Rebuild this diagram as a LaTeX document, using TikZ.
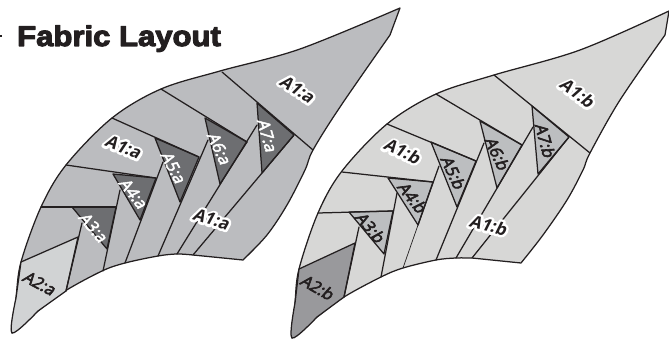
\documentclass[tikz,border=0pt]{standalone}
\usepackage{fontspec}
\setmainfont{Open Sans}
\newfontfamily\labfont[FakeSlant=.2]{Open Sans}
\newfontfamily\titlefont[FakeStretch=1.09]{Liberation Sans Bold}
\definecolor{ink}{HTML}{231F20}
\definecolor{alight}{HTML}{BBBCBF}
\definecolor{adark}{HTML}{6D6E71}
\definecolor{atwo}{HTML}{D1D3D4}
\definecolor{blight}{HTML}{D7D7D6}
\definecolor{bmid}{HTML}{BCBEC0}
\definecolor{btwo}{HTML}{99999C}
\tikzset{
  seam/.style={draw=ink,line width=1.25pt,line cap=round,line join=round},
  thinseam/.style={draw=ink,line width=.7pt,line cap=round},
  lab/.style={font=\labfont\fontsize{16.5}{16.5}\selectfont,inner sep=0pt,text=ink},
  labw/.style={lab,text=white},
  labh/.style={font=\labfont\bfseries\fontsize{17}{17}\selectfont,inner sep=0pt,text=ink},
  smoothcurve/.style={smooth,tension=.55},
}
\newcommand{\dk}[1]{\special{pdf: code 2 Tr 0.137 0.122 0.125 RG 0.6 w 1 j}#1\special{pdf: code 0 Tr 0 G 1 w}}
\newcommand{\wh}[1]{\special{pdf: code 2 Tr 1 1 1 RG 0.5 w 1 j}#1\special{pdf: code 0 Tr 0 G 1 w}}
\newcommand{\hl}[1]{\leavevmode\rlap{\special{pdf: code 1 Tr 1 1 1 RG 5 w 1 j 1 J}#1\special{pdf: code 0 Tr 0 G 1 w}}#1}
\newcommand{\heavy}[1]{\special{pdf: code 2 Tr 0.137 0.122 0.125 RG 1.1 w 1 j}#1\special{pdf: code 0 Tr 0 G 1 w}}
\begin{document}
\begin{tikzpicture}[x=1pt,y=-1pt]
\useasboundingbox (0,0) rectangle (669,339);
% ---------- left leaf
\path[seam,fill=alight] plot[smoothcurve] coordinates {(12,333) (16,298) (21,262) (41,207) (66,165) (112,118) (161,89) (220,71) (300,49) (400,8)}
  -- plot[smoothcurve] coordinates {(390,35) (340,107) (313,150) (305,170) (287,205) (267,235) (243,260)}
  -- plot[smoothcurve] coordinates {(193,255) (177,254) (158,256) (125,263) (102,271) (65,291) (38,311) (12,333)} -- cycle;
\path[seam,fill=atwo] (21,262) -- (78,237) -- (66,291) -- plot[smoothcurve] coordinates {(38,311) (12,333) (16,298)} -- cycle;
\path[seam,fill=adark] (257,103) -- (294,135) -- (262,173) -- cycle;
\path[seam,fill=adark] (205,118) -- (247,142) -- (220,184) -- cycle;
\path[seam,fill=adark] (155,138) -- (199,157) -- (180,202) -- cycle;
\path[seam,fill=adark] (113,174) -- (156,178) -- (140,220) -- cycle;
\path[seam,fill=adark] (72,207) -- (116,207) -- (107,249) -- cycle;
\draw[seam] (222,72) -- (313,150);
\draw[seam] (294,135) -- (193,255);
\draw[seam] (257,125) -- (177,254);
\draw[seam] (161,89) -- (247,142);
\draw[seam] (112,118) -- (199,157);
\draw[seam] (208,140) -- (158,256);
\draw[seam] (163,162) -- (125,263);
\draw[seam] (66,165) -- (156,178);
\draw[seam] (120,190) -- (103,271);
\draw[seam] (41,207) -- (116,207);
\draw[seam] (82,223) -- (66,291);
% ---------- right leaf
\path[seam,fill=blight] plot[smoothcurve] coordinates {(292,338) (295,303) (299,269) (318,213) (342,171) (387,124) (436,94) (494,75) (580,50) (669,11)}
  -- plot[smoothcurve] coordinates {(665,35) (620,100) (590,153) (583,170) (567,200) (543,235) (521,263)}
  -- plot[smoothcurve] coordinates {(472,258) (456,258) (436,260) (403,268) (381,277) (344,297) (317,317) (292,338)} -- cycle;
\path[seam,fill=btwo] (299,269) -- (355,243) -- (344,297) -- plot[smoothcurve] coordinates {(317,317) (292,338) (295,303)} -- cycle;
\path[seam,fill=bmid] (532,106) -- (569,137) -- (538,174) -- cycle;
\path[seam,fill=bmid] (480,121) -- (522,145) -- (497,188) -- cycle;
\path[seam,fill=bmid] (431,142) -- (476,161) -- (457,207) -- cycle;
\path[seam,fill=bmid] (388,178) -- (433,182) -- (418,225) -- cycle;
\path[seam,fill=bmid] (349,212) -- (393,211) -- (384,254) -- cycle;
\draw[seam] (494,75) -- (590,153);
\draw[seam] (569,137) -- (472,258);
\draw[seam] (533,127) -- (456,258);
\draw[seam] (436,94) -- (522,145);
\draw[seam] (387,124) -- (476,161);
\draw[seam] (484,143) -- (436,260);
\draw[seam] (439,166) -- (418,225);
\draw[thinseam] (418,225) -- (403,268);
\draw[seam] (342,172) -- (433,182);
\draw[seam] (397,193) -- (381,277);
\draw[seam] (318,213) -- (393,211);
\draw[seam] (359,227) -- (344,297);
% ---------- title
\node[anchor=base west,inner sep=0pt,font=\titlefont\fontsize{28.5}{28.5}\selectfont,text=ink] (title) at (17,46) {\heavy{Fabric Layout}};
\fill[ink] (0,35.5) rectangle (2,36.8);
% ---------- labels left
\node[labh,rotate=-33] (a1t) at (297,89) {\hl{A1:a}};
\node[labh,rotate=-22] (a1l) at (123,147) {\hl{A1:a}};
\node[labh,rotate=-17] (a1m) at (211,219) {\hl{A1:a}};
\node[labw,rotate=-74] (a7) at (267,135) {\wh{A7:a}};
\node[labw,rotate=-65] (a6) at (219,148) {\wh{A6:a}};
\node[labw,rotate=-62] (a5) at (173,167) {\wh{A5:a}};
\node[labw,rotate=-52] (a4) at (133,193) {\wh{A4:a}};
\node[labw,rotate=-50] (a3) at (93,227) {\wh{A3:a}};
\node[lab,rotate=-28] (a2) at (39,283) {\dk{A2:a}};
% ---------- labels right
\node[labh,rotate=-37] (b1t) at (577,93) {\hl{A1:b}};
\node[labh,rotate=-25] (b1l) at (402,151) {\hl{A1:b}};
\node[labh,rotate=-15] (b1m) at (488,225) {\hl{A1:b}};
\node[lab,rotate=-75] (b7) at (545,140) {\dk{A7:b}};
\node[lab,rotate=-65] (b6) at (497,153) {\dk{A6:b}};
\node[lab,rotate=-65] (b5) at (453,172) {\dk{A5:b}};
\node[lab,rotate=-52] (b4) at (412,197) {\dk{A4:b}};
\node[lab,rotate=-50] (b3) at (370,227) {\dk{A3:b}};
\node[lab,rotate=-30] (b2) at (317,287) {\dk{A2:b}};
\end{tikzpicture}
\end{document}
